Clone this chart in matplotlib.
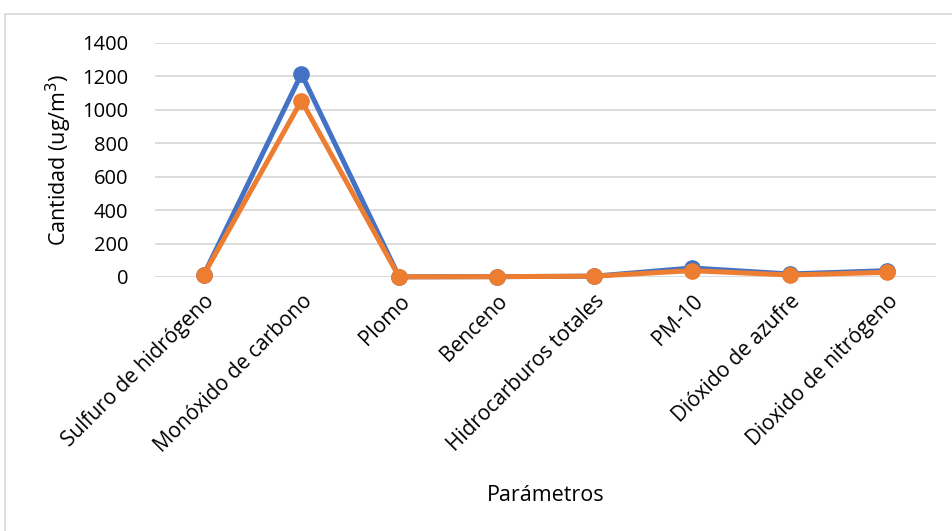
import matplotlib
matplotlib.use("Agg")
import matplotlib.pyplot as plt
from matplotlib.patches import Rectangle

parametros = ["Sulfuro de hidrógeno", "Monóxido de carbono", "Plomo", "Benceno",
              "Hidrocarburos totales", "PM-10", "Dióxido de azufre", "Dioxido de nitrógeno"]
serie_1 = [14, 1215, 1, 2, 5, 54, 18, 38]
serie_2 = [14, 1055, 1, 2, 5, 38, 12, 28]

plt.rcParams['font.family'] = ['Open Sans', 'DejaVu Sans']

fig = plt.figure(figsize=(9.52, 5.31), dpi=100)
fig.patches.append(Rectangle((5 / 952, -0.1), 1.1, 1 - 14 / 531 + 0.1,
                             transform=fig.transFigure, fill=False,
                             edgecolor="#D9D9D9", linewidth=1.2))

ax = fig.add_axes([155 / 952, 1 - 277 / 531, (936 - 155) / 952, (277 - 43) / 531])
x = range(len(parametros))
ax.plot(x, serie_1, color="#4472C4", linewidth=3.6, marker="o", markersize=11,
        clip_on=False, zorder=3, solid_capstyle="round")
ax.plot(x, serie_2, color="#ED7D31", linewidth=3.6, marker="o", markersize=11,
        clip_on=False, zorder=4, solid_capstyle="round")

ax.set_xlim(-0.5, len(parametros) - 0.5)
ax.set_ylim(0, 1400)
ax.set_yticks(range(0, 1401, 200))
ax.yaxis.grid(True, color="#D9D9D9", linewidth=1.3)
ax.set_axisbelow(True)
for s in ax.spines.values():
    s.set_visible(False)
ax.tick_params(length=0, colors="black")
ax.tick_params(axis="y", labelsize=14.5, pad=19)
ax.tick_params(axis="x", labelsize=15, pad=10)
ax.set_xticks(list(x))
ax.set_xticklabels(parametros, rotation=45, ha="right", rotation_mode="anchor")

ax.set_ylabel("Cantidad (ug/m$^3$)", fontsize=15.5, labelpad=6)
ax.set_xlabel("Parámetros", fontsize=15.5)
ax.xaxis.set_label_coords(0.5, -0.89)

fig.savefig("out.png", dpi=100)
